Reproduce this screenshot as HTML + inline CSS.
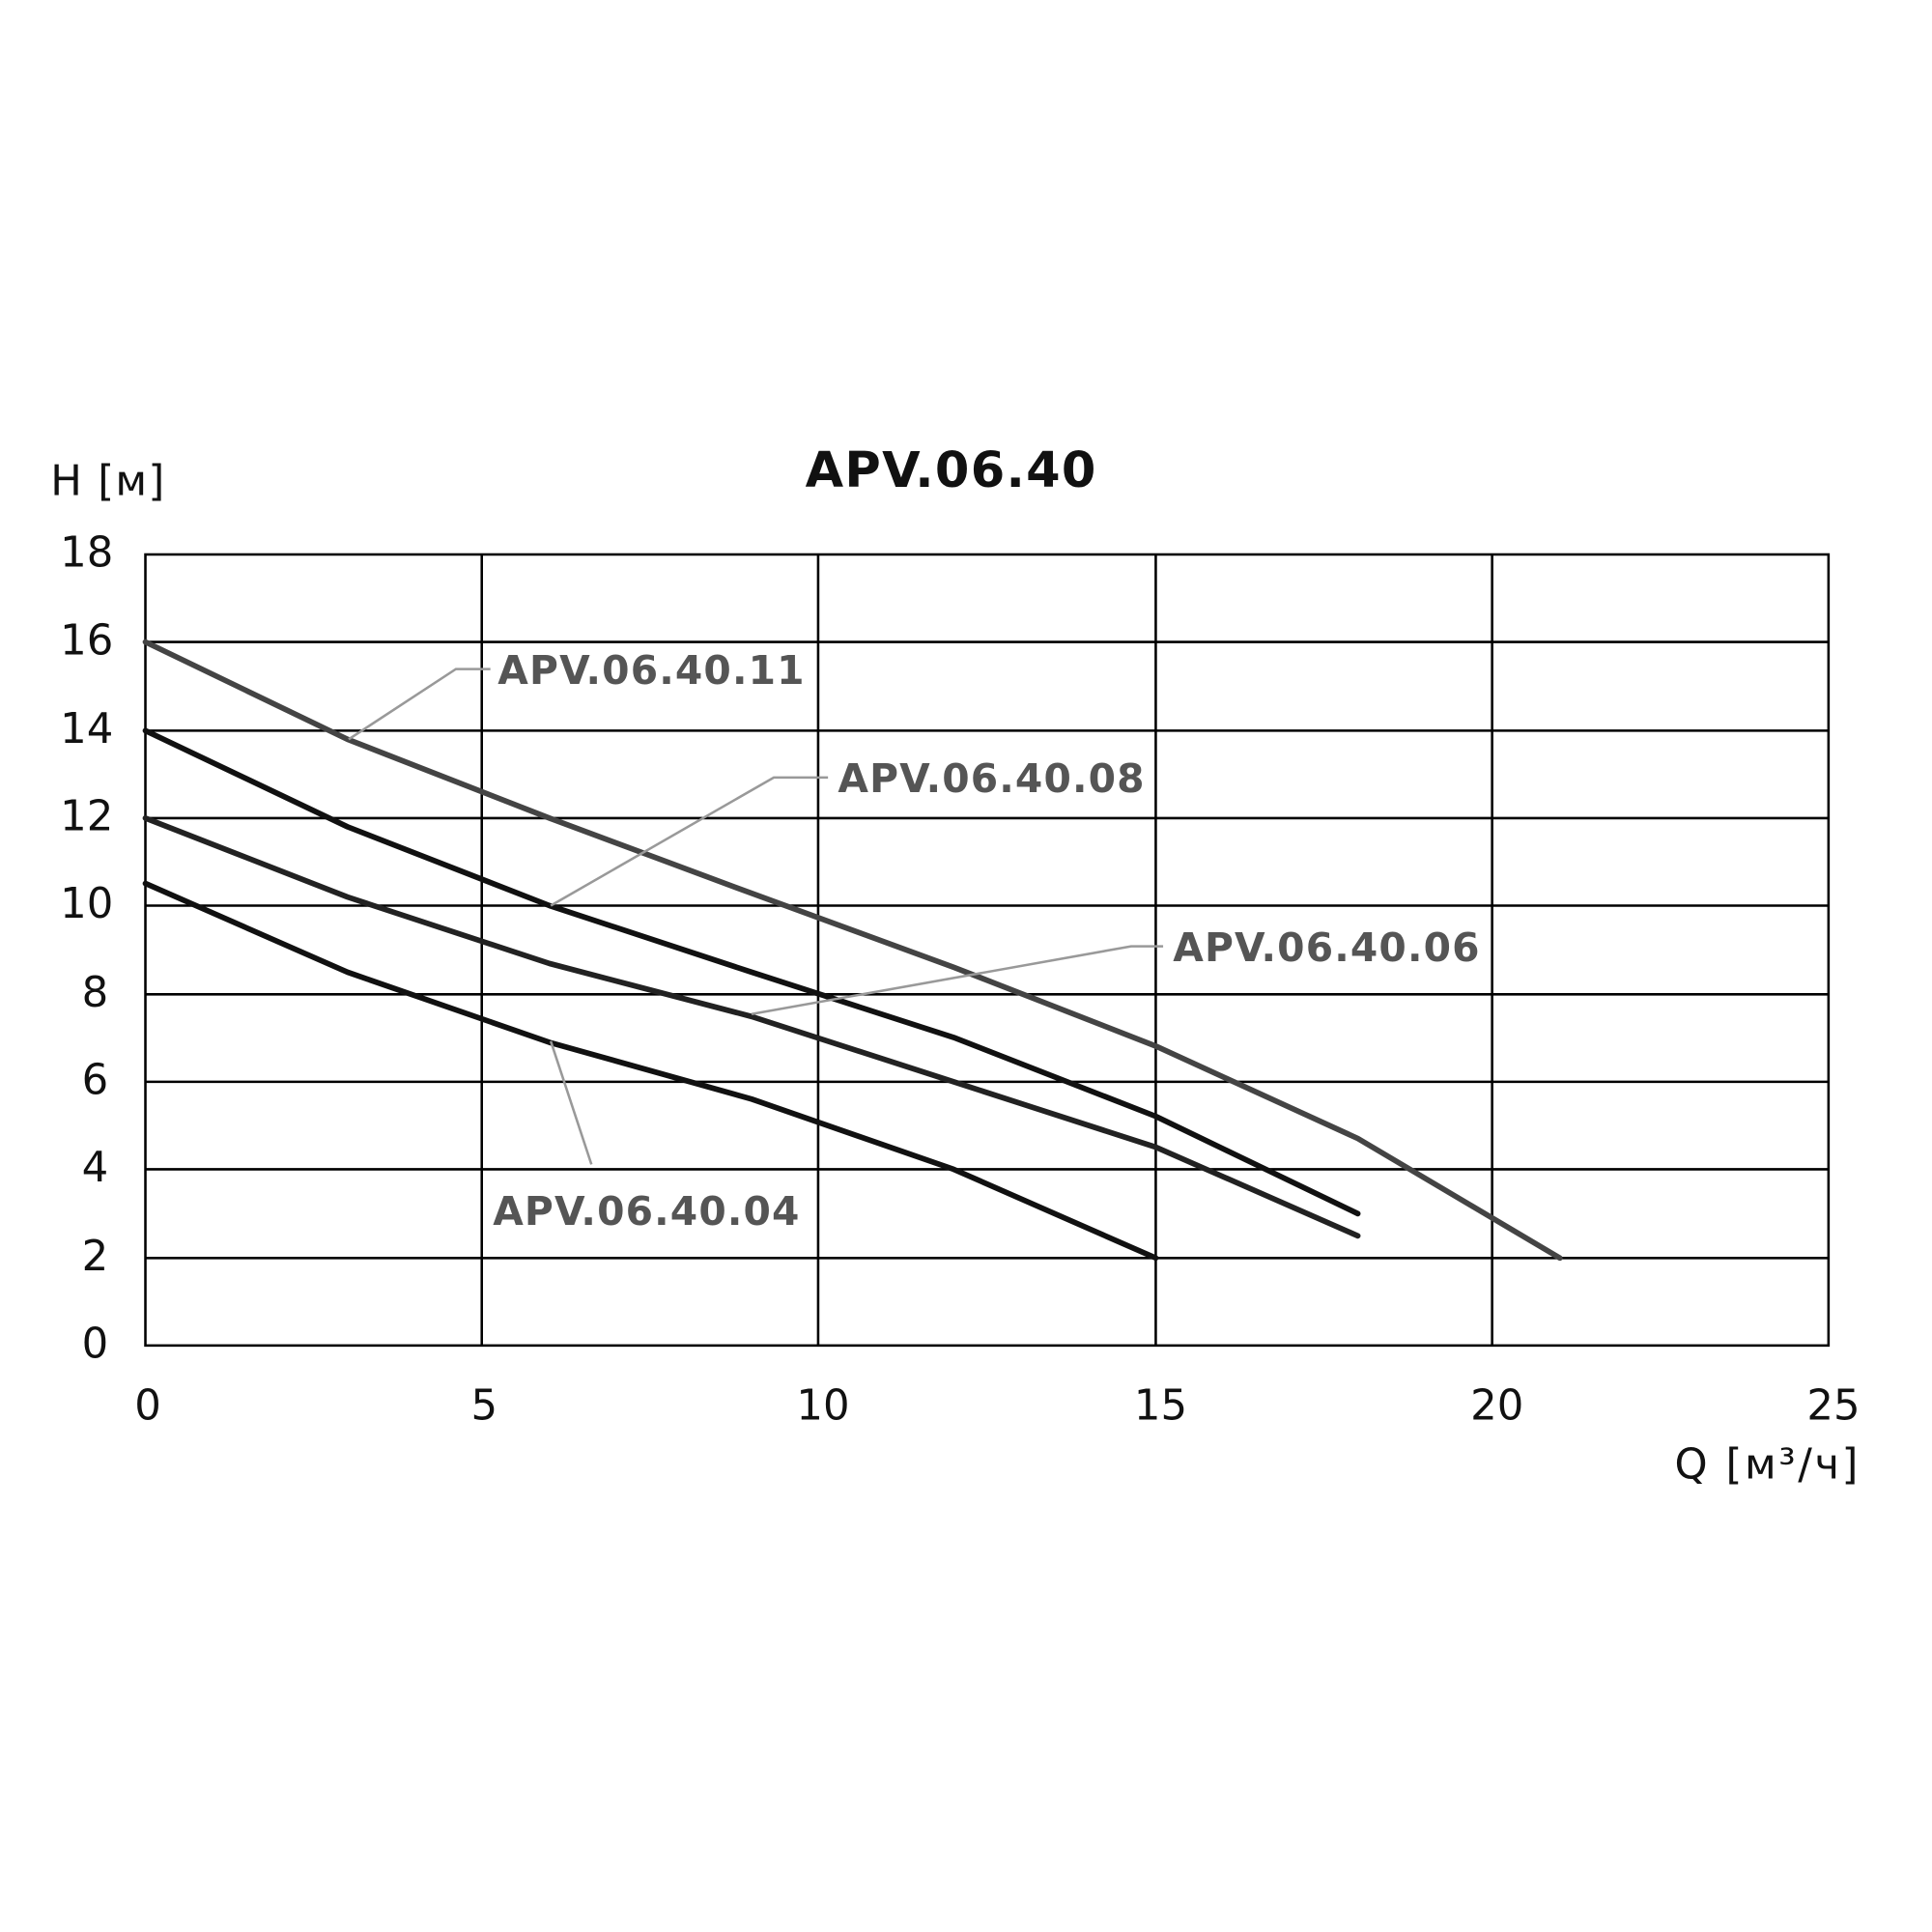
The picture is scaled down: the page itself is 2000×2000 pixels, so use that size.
<!DOCTYPE html>
<html><head><meta charset="utf-8"><style>html,body{margin:0;padding:0;background:#fff}svg{display:block}</style></head>
<body>
<svg width="2000" height="2000" viewBox="0 0 1568 1568" xmlns="http://www.w3.org/2000/svg">
<rect width="1568" height="1568" fill="#fff"/>
<g stroke="#000" stroke-width="2" fill="none">
<rect x="118" y="450" width="1366" height="642"/>
<line x1="391" y1="450" x2="391" y2="1092"/>
<line x1="664" y1="450" x2="664" y2="1092"/>
<line x1="938" y1="450" x2="938" y2="1092"/>
<line x1="1211" y1="450" x2="1211" y2="1092"/>
<line x1="118" y1="521" x2="1484" y2="521"/>
<line x1="118" y1="593" x2="1484" y2="593"/>
<line x1="118" y1="664" x2="1484" y2="664"/>
<line x1="118" y1="735" x2="1484" y2="735"/>
<line x1="118" y1="807" x2="1484" y2="807"/>
<line x1="118" y1="878" x2="1484" y2="878"/>
<line x1="118" y1="949" x2="1484" y2="949"/>
<line x1="118" y1="1021" x2="1484" y2="1021"/>
</g>
<g fill="none" stroke-width="4.5" stroke-linejoin="round" stroke-linecap="round">
<polyline stroke="#444" points="118,521 282,600 446,664 610,725 774,785 938,849 1102,924 1266,1021"/>
<polyline stroke="#111" points="118,593 282,671 446,735 610,789 774,842 938,906 1102,985"/>
<polyline stroke="#222" points="118,664 282,728 446,782 610,825 774,878 938,931 1102,1003"/>
<polyline stroke="#111" points="118,717 282,789 446,846 610,892 774,949 938,1021"/>
</g>
<g fill="none" stroke="#999" stroke-width="2">
<polyline points="283,600 370,543 398,543"/>
<polyline points="447,735 628,631 672,631"/>
<polyline points="610,823 918,768 944,768"/>
<polyline points="447,845 480,945"/>
</g>
<g font-family="'DejaVu Sans', Verdana, sans-serif" font-weight="bold" font-size="32" fill="#555" letter-spacing="0.9">
<text x="404" y="555">APV.06.40.11</text>
<text x="680" y="643">APV.06.40.08</text>
<text x="952" y="780">APV.06.40.06</text>
<text x="400" y="994">APV.06.40.04</text>
</g>
<text x="772" y="395" text-anchor="middle" font-family="'DejaVu Sans', Verdana, sans-serif" font-weight="bold" font-size="40" letter-spacing="1" fill="#111">APV.06.40</text>
<g font-family="'DejaVu Sans', 'Liberation Sans', sans-serif" font-size="34" fill="#111">
<text x="41" y="402" letter-spacing="1">H [м]</text>
<g text-anchor="end">
<text x="92" y="460">18</text>
<text x="92" y="531">16</text>
<text x="92" y="603">14</text>
<text x="92" y="674">12</text>
<text x="92" y="745">10</text>
<text x="88" y="817">8</text>
<text x="88" y="888">6</text>
<text x="88" y="959">4</text>
<text x="88" y="1031">2</text>
<text x="88" y="1102">0</text>
</g>
<g text-anchor="middle">
<text x="120" y="1152">0</text>
<text x="393" y="1152">5</text>
<text x="668" y="1152">10</text>
<text x="942" y="1152">15</text>
<text x="1215" y="1152">20</text>
<text x="1488" y="1152">25</text>
</g>
<text x="1510" y="1200" text-anchor="end" letter-spacing="2">Q [м³/ч]</text>
</g>
</svg>
</body></html>
